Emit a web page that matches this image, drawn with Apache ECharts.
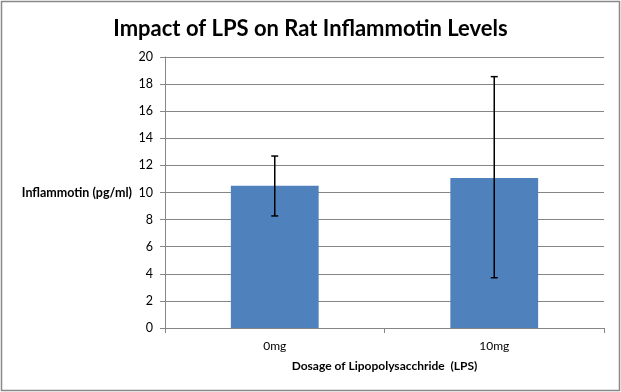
<!DOCTYPE html>
<html><head><meta charset="utf-8">
<script src="https://cdn.jsdelivr.net/npm/echarts@6/dist/echarts.min.js"></script>
<style>html,body{margin:0;padding:0;background:#fff}#c{width:621px;height:392px}</style>
</head><body><div id="c"></div>
<script>
const categories = ['0mg', '10mg'];
const means = [10.5, 11.07];
const errLow = [8.27, 3.71];
const errHigh = [12.69, 18.55];
const yTicks = [0, 2, 4, 6, 8, 10, 12, 14, 16, 18, 20];

const FONT = 'Lato';
const chart = echarts.init(document.getElementById('c'), null, {renderer: 'canvas'});
chart.setOption({
  animation: false,
  backgroundColor: '#fff',
  textStyle: {fontFamily: FONT},
  title: {
    text: 'Impact of LPS on Rat Inflammotin Levels',
    left: 'center', top: 13,
    textStyle: {fontFamily: FONT, fontWeight: 'bold', fontSize: 22, color: '#000'}
  },
  graphic: [{
    type: 'rect', shape: {x: 1.5, y: 1.5, width: 618, height: 389},
    style: {fill: 'none', stroke: '#888', lineWidth: 1.5}, silent: true
  }],
  grid: {left: 165, right: 17, top: 57, bottom: 64},
  xAxis: {
    type: 'category', data: categories,
    axisLine: {lineStyle: {color: '#868686'}},
    axisTick: {show: true, length: 5, lineStyle: {color: '#868686'}},
    axisLabel: {color: '#000', fontSize: 12, margin: 12, fontFamily: FONT},
    name: 'Dosage of Lipopolysacchride  (LPS)',
    nameLocation: 'middle', nameGap: 32,
    nameTextStyle: {color: '#000', fontWeight: 'bold', fontSize: 12, fontFamily: FONT}
  },
  yAxis: {
    type: 'value', min: yTicks[0], max: yTicks[yTicks.length - 1], interval: 2,
    axisLine: {show: true, lineStyle: {color: '#868686'}},
    axisTick: {show: true, length: 5, lineStyle: {color: '#868686'}},
    splitLine: {lineStyle: {color: '#868686'}},
    axisLabel: {color: '#000', fontSize: 12.5, margin: 12, fontFamily: FONT},
    name: 'Inflammotin (pg/ml)', nameLocation: 'middle', nameRotate: 0, nameGap: 33,
    nameTextStyle: {color: '#000', fontWeight: 'bold', fontSize: 12.5, fontFamily: FONT, align: 'right'}
  },
  series: [{
    type: 'bar', data: means, barWidth: '40%',
    itemStyle: {color: '#4f81bd'}
  }, {
    type: 'custom',
    data: categories.map((c, i) => [i, errLow[i], errHigh[i]]),
    renderItem: function (params, api) {
      const lo = api.coord([api.value(0), api.value(1)]);
      const hi = api.coord([api.value(0), api.value(2)]);
      const w = 3.5;
      const st = {stroke: '#000', lineWidth: 1.5};
      return {type: 'group', children: [
        {type: 'line', shape: {x1: hi[0], y1: hi[1], x2: lo[0], y2: lo[1]}, style: st},
        {type: 'line', shape: {x1: hi[0] - w, y1: hi[1], x2: hi[0] + w, y2: hi[1]}, style: st},
        {type: 'line', shape: {x1: lo[0] - w, y1: lo[1], x2: lo[0] + w, y2: lo[1]}, style: st}
      ]};
    },
    z: 10
  }]
});
</script></body></html>
